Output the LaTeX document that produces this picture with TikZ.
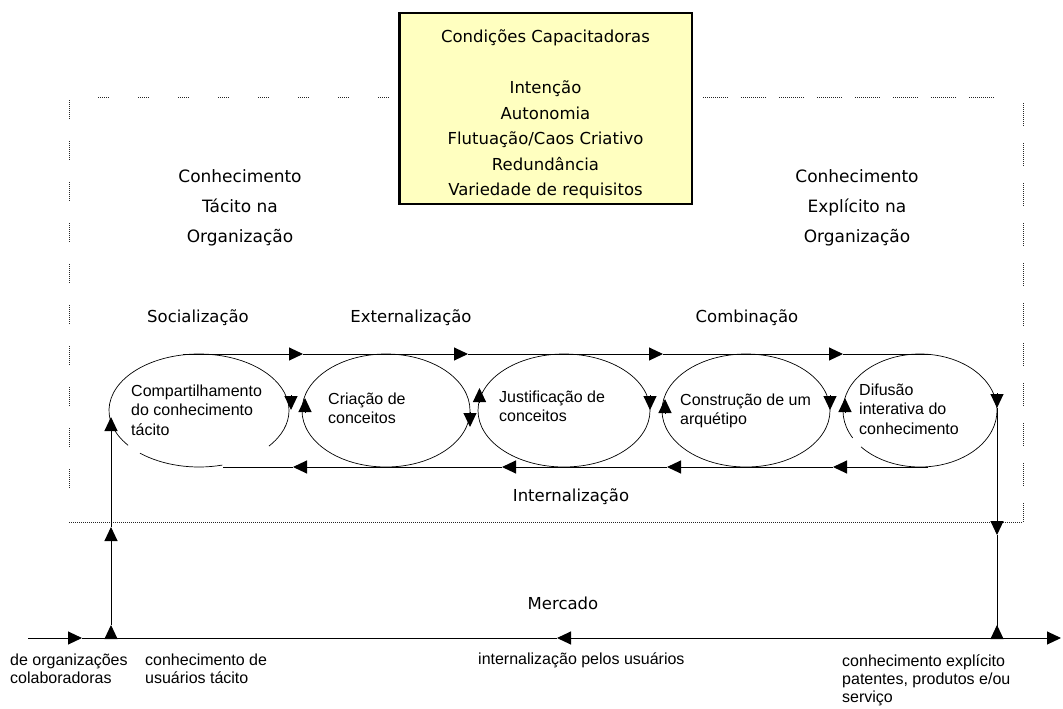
\documentclass[tikz,border=0pt]{standalone}
\usepackage{fontspec}
\setmainfont{Liberation Sans}
\newfontfamily\comic{DejaVu Sans}
\usetikzlibrary{arrows.meta,shapes.geometric}
\definecolor{boxyellow}{RGB}{255,255,192}
\begin{document}
\begin{tikzpicture}[x=1pt,y=-1pt,
  line/.style={line width=1pt},
  tri/.style={line width=1pt,-{Triangle[length=14pt,width=13pt]}},
  ell/.style={ellipse, line width=0.7pt, inner sep=0pt, minimum height=113pt},
  outline/.style={line width=0.7pt},
  dots/.style={line width=1pt, black!85, dash pattern=on 1pt off 1pt},
  comic/.style={font=\comic\fontsize{16.5}{25.5}\selectfont, inner sep=0pt, align=center},
  comicb/.style={font=\comic\fontsize{17}{30}\selectfont, inner sep=0pt, align=center},
  arial/.style={font=\fontsize{16}{19.5}\selectfont, inner sep=0pt, align=left},
  arialb/.style={font=\fontsize{16}{18}\selectfont, inner sep=0pt, align=left, anchor=west},
]
\useasboundingbox (0,0) rectangle (1063,709);

% ---------- dotted frame ----------
\foreach \x in {98,138,...,380} {\draw[dots] (\x,97) -- ++(12,0);}
\foreach \x in {703,741,...,1000} {\draw[dots] (\x,97) -- ++(25,0);}
\foreach \y in {100,141,...,500} {\draw[dots] (69,\y) -- ++(0,20);}
\foreach \y in {103,143,...,490} {\draw[dots] (1023,\y) -- ++(0,24);}
\draw[dots] (1023,503) -- (1023,522);
\draw[dots] (69,522) -- (1023,522);

% ---------- enabling conditions box ----------
\node[draw, line width=2.5pt, fill=boxyellow, minimum width=292.5pt, minimum height=190.5pt, inner sep=0pt] (cond) at (545.5,108.5) {};
\node[comic] (condtxt) at (545.5,114.5) {Condições Capacitadoras\\[25.5pt]Intenção\\Autonomia\\Flutuação/Caos Criativo\\Redundância\\Variedade de requisitos};

% ---------- headings ----------
\node[comicb] (tac) at (240,208) {Conhecimento\\Tácito na\\Organização};
\node[comicb] (exp) at (857,208) {Conhecimento\\Explícito na\\Organização};
\node[comic] (soc) at (198,318) {Socialização};
\node[comic] (ext) at (411,318) {Externalização};
\node[comic] (comb) at (747,318) {Combinação};
\node[comic] (intl) at (571,497) {Internalização};
\node[comic] (merc) at (563,603) {Mercado};

% ---------- ellipses ----------
\node[ell, minimum width=180pt] (e1) at (199,410.5) {};
\node[ell, draw, minimum width=168pt] (e2) at (386,410.5) {};
\node[ell, draw, minimum width=172pt] (e3) at (564,410.5) {};
\node[ell, draw, minimum width=168pt] (e4) at (746,410.5) {};
\node[ell, minimum width=154pt] (e5) at (920,410.5) {};
\draw[outline] (e1.center) ++(142:90 and 56.5) arc[start angle=142, end angle=399, x radius=90, y radius=56.5];
\draw[outline] (e1.center) ++(75:90 and 56.5) arc[start angle=75, end angle=131, x radius=90, y radius=56.5];
\draw[outline] (e5.center) ++(151:77 and 56.5) arc[start angle=151, end angle=500, x radius=77, y radius=56.5];

\node[arial, anchor=west] (t1) at (131,410) {Compartilhamento\\do conhecimento\\tácito};
\node[arial, anchor=west] (t2) at (328,408.5) {Criação de\\conceitos};
\node[arial, anchor=west] (t3) at (499,406.5) {Justificação de\\conceitos};
\node[arial, anchor=west] (t4) at (680,411) {Construção de um\\arquétipo};
\node[arial, anchor=west] (t5) at (859,409) {Difusão\\interativa do\\conhecimento};

% ---------- top flow line ----------
\coordinate (ta) at (183,354);
\coordinate (tb) at (303,354);
\coordinate (tc) at (468,354);
\coordinate (td) at (663,354);
\coordinate (te) at (843,354);
\coordinate (tf) at (930,354);
\draw[tri] (ta) -- (tb);
\draw[tri] (tb) -- (tc);
\draw[tri] (tc) -- (td);
\draw[tri] (td) -- (te);
\draw[line] (te) -- (tf);

% ---------- bottom flow line ----------
\coordinate (ba) at (928,467);
\coordinate (bb) at (833,467);
\coordinate (bc) at (667,467);
\coordinate (bd) at (502,467);
\coordinate (be) at (293,467);
\coordinate (bf) at (223,467);
\draw[tri] (ba) -- (bb);
\draw[tri] (bb) -- (bc);
\draw[tri] (bc) -- (bd);
\draw[tri] (bd) -- (be);
\draw[line] (be) -- (bf);

% ---------- arrowheads on the ellipse sides ----------
\coordinate (a1s) at (291,395);  \coordinate (a1e) at (291,410);
\coordinate (a2s) at (305,413);  \coordinate (a2e) at (305,398);
\coordinate (a3s) at (470,412);  \coordinate (a3e) at (470,427);
\coordinate (a4s) at (479.5,403); \coordinate (a4e) at (479.5,388);
\coordinate (a5s) at (650,395);  \coordinate (a5e) at (650,410);
\coordinate (a6s) at (665,414);  \coordinate (a6e) at (665,399);
\coordinate (a7s) at (830,395);  \coordinate (a7e) at (830,410);
\coordinate (a8s) at (845,413);  \coordinate (a8e) at (845,398);
\foreach \i in {1,...,8} {\draw[tri] (a\i s) -- (a\i e);}

% ---------- market line ----------
\coordinate (ma) at (28,638);
\coordinate (mb) at (82,638);
\coordinate (mc) at (557,638);
\coordinate (md) at (1061,638);
\draw[tri] (ma) -- (mb);
\draw[line] (mb) -- (mc);
\draw[line width=1pt,{Triangle[length=14pt,width=13pt]}-{Triangle[length=14pt,width=13pt]}] (mc) -- (md);

% ---------- left vertical (tacit knowledge of users) ----------
\coordinate (la) at (111,638);
\coordinate (lb) at (111,625);
\coordinate (lc) at (111,527);
\coordinate (ld) at (111,417);
\draw[tri] (la) -- (lb);
\draw[tri] (lb) -- (lc);
\draw[tri] (lc) -- (ld);

% ---------- right vertical (explicit knowledge) ----------
\coordinate (ra) at (997,393);
\coordinate (rb) at (997,408);
\coordinate (rc) at (997,535);
\coordinate (rd) at (997,638);
\coordinate (re) at (997,625);
\draw[tri] (ra) -- (rb);
\draw[tri] (rb) -- (rc);
\draw[line] (rc) -- (rd);
\draw[tri] (rd) -- (re);

% ---------- bottom labels ----------
\node[arialb] (l1) at (10,669) {de organizações\\colaboradoras};
\node[arialb] (l2) at (145,669) {conhecimento de\\usuários tácito};
\node[arialb] (l3) at (478,660) {internalização pelos usuários};
\node[arialb] (l4) at (842,680) {conhecimento explícito\\patentes, produtos e/ou\\serviço};
\end{tikzpicture}
\end{document}
